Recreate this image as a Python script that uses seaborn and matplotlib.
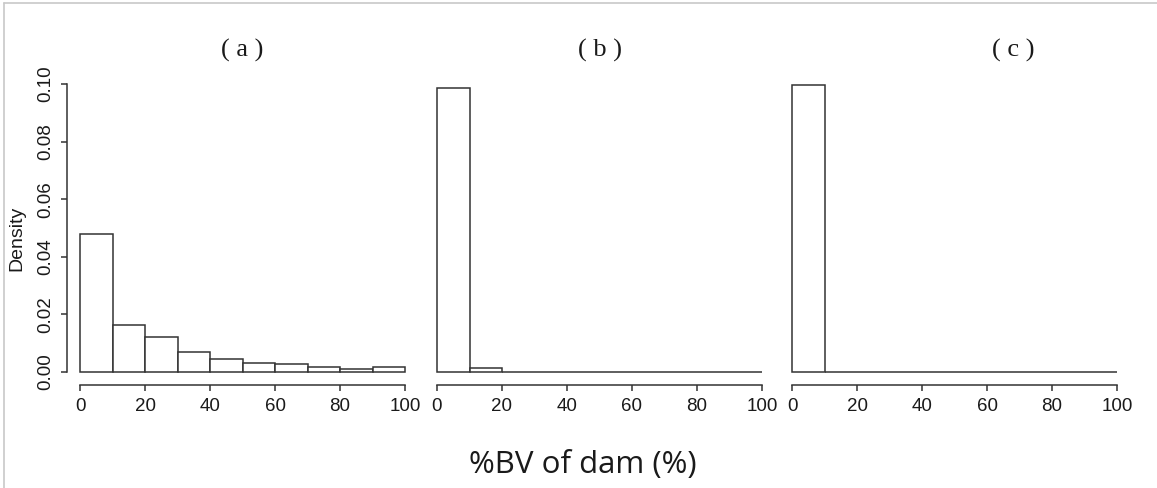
import matplotlib
matplotlib.use("Agg")
import matplotlib.pyplot as plt
from matplotlib.lines import Line2D
import numpy as np
import seaborn as sns

# Histogram bins (10-unit classes over 0-100) and the density of each class
bin_edges = [0, 10, 20, 30, 40, 50, 60, 70, 80, 90, 100]
density_a = [0.0478, 0.0164, 0.0122, 0.0069, 0.0046, 0.0033, 0.0028, 0.0017, 0.0012, 0.0019]
density_b = [0.0985, 0.0015, 0.0, 0.0, 0.0, 0.0, 0.0, 0.0, 0.0, 0.0]
density_c = [0.0998, 0.0002, 0.0, 0.0, 0.0, 0.0, 0.0, 0.0, 0.0, 0.0]

panel_titles = ["( a )", "( b )", "( c )"]
x_ticks = [0, 20, 40, 60, 80, 100]
x_tick_labels = ["0", "20", "40", "60", "80", "100"]
y_ticks = [0.00, 0.02, 0.04, 0.06, 0.08, 0.10]
y_tick_labels = ["0.00", "0.02", "0.04", "0.06", "0.08", "0.10"]
x_label = "%BV of dam (%)"
y_label = "Density"

sns.set_theme(style="white")
plt.rcParams["font.family"] = ["Liberation Sans", "DejaVu Sans"]

W, H = 1157, 488
fig = plt.figure(figsize=(W / 100, H / 100), dpi=100)
fig.patch.set_facecolor("white")

ink = "#333333"
panel_left_px = [67, 424, 779]
title_x_px = [242, 600, 1013]
ax_w_px, ax_top_px, ax_bot_px = 351, 72.5, 384.5

mids = [(a + b) / 2 for a, b in zip(bin_edges[:-1], bin_edges[1:])]
series = [density_a, density_b, density_c]

for i, (left, dens) in enumerate(zip(panel_left_px, series)):
    ax = fig.add_axes([left / W, 1 - ax_bot_px / H, ax_w_px / W, (ax_bot_px - ax_top_px) / H])
    ax.set_facecolor("white")
    sns.histplot(x=mids, weights=dens, bins=bin_edges, stat="count",
                 fill=True, facecolor="white", edgecolor=ink, linewidth=1.1,
                 alpha=1.0, ax=ax)
    ax.set_xlim(-4, 104)
    ax.set_ylim(-0.0043, 0.104)
    ax.set_xlabel("")
    ax.set_ylabel("")
    for s in ("top", "right"):
        ax.spines[s].set_visible(False)
    ax.spines["bottom"].set_bounds(0, 100)
    ax.spines["bottom"].set_color(ink)
    ax.spines["bottom"].set_linewidth(1.1)
    ax.set_xticks(x_ticks)
    ax.set_xticklabels(x_tick_labels)
    ax.tick_params(axis="x", direction="out", length=4, width=1.1, color=ink,
                   labelsize=13.5, labelcolor="#1a1a1a", pad=6, bottom=True)
    if i == 0:
        ax.spines["left"].set_bounds(0, 0.10)
        ax.spines["left"].set_color(ink)
        ax.spines["left"].set_linewidth(1.1)
        ax.set_yticks(y_ticks)
        ax.set_yticklabels(y_tick_labels, rotation=90, va="center")
        ax.tick_params(axis="y", direction="out", length=4, width=1.1, color=ink,
                       labelsize=13.5, labelcolor="#1a1a1a", pad=5, left=True)
    else:
        ax.spines["left"].set_visible(False)
        ax.set_yticks([])
    fig.text(title_x_px[i] / W, 1 - 50 / H, panel_titles[i], ha="center", va="center",
             fontsize=19, family=["Liberation Serif", "DejaVu Serif"], color="#1a1a1a")

fig.text(17 / W, 1 - 238 / H, y_label, rotation=90, ha="center", va="center",
         fontsize=14, color="#1a1a1a")
fig.text(583 / W, 1 - 465 / H, x_label, ha="center", va="center",
         fontsize=22.5, family=["Open Sans", "DejaVu Sans"], color="#1a1a1a")

# thin grey frame along the top and left edges
fig.add_artist(Line2D([4 / W, 1], [1 - 3 / H, 1 - 3 / H], transform=fig.transFigure,
                      color="#c8c8c8", linewidth=1.2))
fig.add_artist(Line2D([4 / W, 4 / W], [0, 1 - 3 / H], transform=fig.transFigure,
                      color="#c8c8c8", linewidth=1.2))

fig.savefig("out.png", dpi=100, facecolor="white")
